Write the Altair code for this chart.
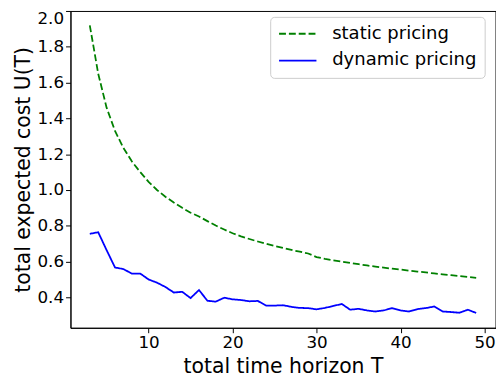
import altair as alt
import pandas as pd

T = list(range(3, 50))
static_pricing = [1.92, 1.65, 1.46, 1.33, 1.235, 1.16, 1.10, 1.045, 1.0, 0.962,
                  0.93, 0.90, 0.873, 0.852, 0.826, 0.801, 0.779, 0.758, 0.741, 0.726,
                  0.712, 0.699, 0.687, 0.676, 0.665, 0.655, 0.645, 0.625, 0.615, 0.607,
                  0.60, 0.592, 0.585, 0.578, 0.572, 0.566, 0.56, 0.555, 0.549, 0.544,
                  0.539, 0.534, 0.529, 0.524, 0.519, 0.514, 0.509]
dynamic_pricing = [0.755, 0.764, 0.664, 0.567, 0.558, 0.533, 0.533, 0.50, 0.482, 0.458,
                   0.427, 0.431, 0.396, 0.441, 0.381, 0.376, 0.398, 0.389, 0.385, 0.378,
                   0.380, 0.354, 0.354, 0.356, 0.347, 0.341, 0.340, 0.333, 0.341, 0.352,
                   0.363, 0.331, 0.336, 0.327, 0.321, 0.327, 0.340, 0.327, 0.321, 0.334,
                   0.340, 0.349, 0.321, 0.318, 0.314, 0.331, 0.313]
series_names = ["static pricing", "dynamic pricing"]
x_ticks = [10, 20, 30, 40, 50]
y_ticks = [0.4, 0.6, 0.8, 1.0, 1.2, 1.4, 1.6, 1.8, 2.0]

rows = []
for t, s in zip(T, static_pricing):
    rows.append({"T": t, "U": s, "series": series_names[0]})
for t, d in zip(T, dynamic_pricing):
    rows.append({"T": t, "U": d, "series": series_names[1]})
df = pd.DataFrame(rows)

FONT = "DejaVu Sans"

legend = alt.Legend(
    title=None, orient="none", legendX=203, legendY=6,
    symbolType="stroke", symbolSize=1444, symbolStrokeWidth=1.8,
    labelFontSize=18.3, labelFont=FONT, labelColor="black", labelOffset=15,
    clipHeight=18.3, padding=8, rowPadding=7.2,
    fillColor="white", strokeColor="#cccccc", cornerRadius=4,
)

chart = alt.Chart(df).mark_line(strokeWidth=1.8).encode(
    x=alt.X("T:Q", scale=alt.Scale(domain=[0.7, 51.3], nice=False, zero=False),
            axis=alt.Axis(values=x_ticks, title="total time horizon T", format="d")),
    y=alt.Y("U:Q", scale=alt.Scale(domain=[0.23, 2.0], nice=False, zero=False),
            axis=alt.Axis(values=y_ticks, title="total expected cost U(T)", format=".1f",
                          labelFlush=True)),
    color=alt.Color("series:N", scale=alt.Scale(domain=series_names, range=["#008000", "#0000ff"]),
                    legend=legend),
    strokeDash=alt.StrokeDash("series:N", scale=alt.Scale(domain=series_names, range=[[7, 3], [1, 0]]),
                              legend=legend),
    detail="series:N",
).properties(
    width=432, height=322,
    autosize=alt.AutoSizeParams(type="none"),
    padding={"left": 63.5, "top": 0, "right": 0.5, "bottom": 47},
).configure_view(
    stroke="black", strokeWidth=1
).configure_axis(
    grid=False, domain=True, domainColor="black", tickColor="black", tickSize=5,
    labelFont=FONT, labelFontSize=17, labelColor="black", labelPadding=2,
    titleFont=FONT, titleFontSize=20.7, titleColor="black", titleFontWeight="normal",
).configure_axisX(titlePadding=6).configure_axisY(titlePadding=4)

chart.save("out.html", embed_options={"renderer": "svg", "actions": False})
